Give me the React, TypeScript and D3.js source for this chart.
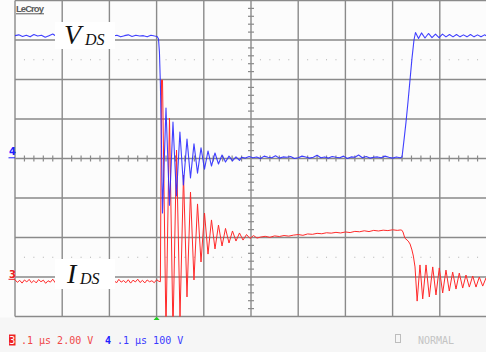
import React from 'react';
import * as d3 from 'd3';

const W = 486;
const H = 352;

// Time base: 0.1 µs/div, 10 divisions -> ns
const TIME_DOMAIN: [number, number] = [0, 1000];
// Channel 4 (VDS): 100 V/div, ground at centre line
const VDS_DOMAIN: [number, number] = [-400, 400];
// Channel 3 (IDS probe): 2.00 V/div, ground at 7th division from top
const IDS_DOMAIN: [number, number] = [-2, 14];

// ---- VDS (channel 4, volts) ----
const vdsOffStart = 0;
const vdsOffStep = 8;
const vdsOffLevel = [311, 313, 309, 312, 308, 314, 310, 312, 307, 311, 315, 309, 312, 310, 313, 308, 311, 314, 310, 309, 312, 308, 313, 311, 309, 314, 310, 312, 308, 311, 313, 309, 312, 310, 311, 308, 312, 310];
const vdsTurnOn: [number, number][] = [
  [301, 309], [304, 303], [306, 270], [308, 190], [310, 60], [312.5, -138],
  [319.9, 128], [327.3, -118], [334.7, 92], [342.0, -95], [349.4, 67], [356.8, -67],
  [364.4, 49], [371.8, -49], [379.2, 37], [386.7, -37], [394.1, 27], [401.5, -27],
  [408.9, 19], [416.3, -19], [423.7, 14], [431.1, -14], [438.6, 9], [446.0, -9],
  [453.4, 6], [460.8, -6], [468.2, 4], [475.6, -5],
];
const vdsOnStart = 480;
const vdsOnStep = 8;
const vdsOnLevel = [3, 1, 5, 2, 4, 0, 6, 3, 2, 7, 1, 4, 3, 5, 0, 2, 6, 4, 1, 3, 8, 2, 4, 1, 5, 3, 2, 6, 0, 4, 3, 9, 2, 5, 1, 3, 4, 2, 6, 3, 1, 4, 2];
const vdsTurnOff: [number, number][] = [
  [820, 4], [824.2, 47], [828.4, 92], [832.6, 143], [836.9, 199], [841.1, 254], [845.3, 300], [848.5, 319],
  [855, 304], [861.2, 318], [868.6, 305], [876, 316.5], [883.5, 306], [890.9, 315], [898.3, 306], [905.7, 315],
  [913.1, 308], [920.6, 314], [928, 308], [935.4, 314], [942.8, 308], [950.2, 313], [957.6, 308], [965, 314],
  [972.5, 308], [979.9, 313], [987.3, 308], [994.7, 313], [1000, 310],
];

// ---- IDS (channel 3, volts) ----
const idsOffStart = 0;
const idsOffStep = 5;
const idsOffLevel = [-0.14, -0.27, -0.17, -0.31, -0.15, -0.25, -0.12, -0.29, -0.18, -0.30, -0.13, -0.24, -0.16, -0.32, -0.19, -0.26, -0.11, -0.28, -0.15, -0.30, -0.17, -0.23, -0.13, -0.29, -0.20, -0.31, -0.14, -0.26, -0.18, -0.27, -0.12, -0.30, -0.16, -0.25, -0.14, -0.28, -0.19, -0.32, -0.15, -0.24, -0.13, -0.27, -0.17, -0.30, -0.12, -0.26, -0.18, -0.29, -0.14, -0.31, -0.16, -0.25, -0.11, -0.28, -0.17, -0.30, -0.15, -0.24, -0.19, -0.29, -0.14, -0.22];
const idsTurnOn: [number, number][] = [
  [308, -0.24], [310.4, 9.97], [312.5, 9.97], [319.9, -2.8], [327.3, 8.05], [334.7, -2.8],
  [342.2, 6.43], [349.6, -2.08], [357.0, 5.16], [364.4, -1.01], [371.8, 4.30], [379.2, -0.15],
  [386.7, 3.70], [394.1, 0.76], [401.5, 3.24], [408.9, 1.16], [416.3, 2.89], [423.7, 1.42],
  [431.1, 2.63], [438.6, 1.57], [446.0, 2.46], [453.4, 1.72], [460.8, 2.33], [468.2, 1.82],
  [475.6, 2.23], [483.1, 1.87], [490.5, 2.15], [497.9, 1.95], [505.3, 2.10], [512.7, 1.97],
];
const idsOnStart = 520;
const idsOnStep = 10;
const idsOnLevel = [2.02, 2.06, 2.01, 2.08, 2.05, 2.10, 2.07, 2.12, 2.15, 2.11, 2.18, 2.16, 2.21, 2.19, 2.24, 2.22, 2.26, 2.23, 2.28, 2.25, 2.31, 2.29, 2.34, 2.30, 2.36, 2.33, 2.37, 2.35, 2.39, 2.36];
const idsTurnOff: [number, number][] = [
  [816, 2.38], [819, 2.38], [822, 2.28], [826, 1.97], [833, 1.82], [837, 1.67], [841, 1.37], [844, 1.06],
  [847.5, 0.51], [852, -1.22], [858, 0.61], [863.8, -1.11], [870.8, 0.61], [877.8, -1.01], [885.0, 0.51],
  [891.9, -0.91], [898.9, 0.46], [906.1, -0.81], [913.1, 0.35], [920.1, -0.71], [927.3, 0.25], [934.3, -0.61],
  [941.3, 0.20], [948.5, -0.56], [955.5, 0.10], [962.5, -0.51], [969.7, 0.05], [976.7, -0.51], [983.7, 0.0],
  [990.9, -0.46], [997.9, -0.05], [1000, -0.25],
];

const GRID_T = d3.range(0, 1001, 100);
const GRID_V = d3.range(-400, 401, 100);
const MINOR_T = d3.range(0, 1001, 20).filter((t) => t % 100 !== 0);
const MINOR_V = d3.range(-400, 401, 20).filter((v) => v % 100 !== 0);
const DOTTED_V = [250, -250];

function sampled(start: number, step: number, vals: number[]): [number, number][] {
  return vals.map((v, i) => [start + i * step, v] as [number, number]);
}

export default function App() {
  const x = d3.scaleLinear().domain(TIME_DOMAIN).range([15, 487]);
  const yV = d3.scaleLinear().domain(VDS_DOMAIN).range([316.5, 0.5]);
  const yI = d3.scaleLinear().domain(IDS_DOMAIN).range([316.5, 0.5]);

  const vds: [number, number][] = [
    ...sampled(vdsOffStart, vdsOffStep, vdsOffLevel),
    ...vdsTurnOn,
    ...sampled(vdsOnStart, vdsOnStep, vdsOnLevel),
    ...vdsTurnOff,
  ];
  const ids: [number, number][] = [
    ...sampled(idsOffStart, idsOffStep, idsOffLevel),
    ...idsTurnOn,
    ...sampled(idsOnStart, idsOnStep, idsOnLevel),
    ...idsTurnOff,
  ];

  const lineV = d3.line<[number, number]>().x((d) => x(d[0])).y((d) => yV(d[1]));
  const lineI = d3.line<[number, number]>().x((d) => x(d[0])).y((d) => yI(d[1]));

  const gridColor = '#8a8a8a';
  const cx = x(500);
  const cy = yV(0);

  return (
    <svg width={W} height={H} style={{ position: 'absolute', left: 0, top: 0, display: 'block' }}>
      <defs>
        <clipPath id="screen">
          <rect x={x(0)} y={yV(400)} width={x(1000) - x(0)} height={yV(-400) - yV(400)} />
        </clipPath>
      </defs>
      <rect x={0} y={0} width={W} height={H} fill="#fcfcfc" />
      <rect x={0} y={yV(-400) + 1} width={W} height={H - yV(-400)} fill="#f6f6f6" />

      {/* dotted half-division lines */}
      {DOTTED_V.map((v) =>
        MINOR_T.map((t) => (
          <rect key={`d${v}-${t}`} x={x(t) - 0.5} y={yV(v) - 0.5} width={1} height={1} fill="#b0b0b0" />
        ))
      )}

      {/* major grid */}
      {GRID_T.map((t) => (
        <line key={`gt${t}`} x1={x(t)} x2={x(t)} y1={yV(400)} y2={yV(-400)} stroke={gridColor} strokeWidth={1.4} />
      ))}
      {GRID_V.map((v) => (
        <line key={`gv${v}`} x1={x(0)} x2={x(1000)} y1={yV(v)} y2={yV(v)} stroke={gridColor} strokeWidth={1.4} />
      ))}

      {/* centre axis ticks */}
      {MINOR_T.map((t) => (
        <line key={`mt${t}`} x1={x(t)} x2={x(t)} y1={cy - 3} y2={cy + 3} stroke={gridColor} strokeWidth={1.2} />
      ))}
      {MINOR_V.map((v) => (
        <line key={`mv${v}`} x1={cx - 3} x2={cx + 3} y1={yV(v)} y2={yV(v)} stroke={gridColor} strokeWidth={1.2} />
      ))}

      {/* traces */}
      <g clipPath="url(#screen)">
        <path d={lineI(ids) || ''} fill="none" stroke="#ff2a2a" strokeWidth={1} strokeLinejoin="round" />
        <path d={lineV(vds) || ''} fill="none" stroke="#2b2bff" strokeWidth={1.1} strokeLinejoin="round" opacity={0.9} />
      </g>

      {/* trigger marker */}
      <path d={`M${x(300) - 3},${yV(-400) + 3.5} L${x(300)},${yV(-400)} L${x(300) + 3},${yV(-400) + 3.5} Z`} fill="#22cc22" />

      {/* labels */}
      <rect x={55} y={22} width={60} height={27} fill="#ffffff" />
      <text x={64} y={43.5} fontFamily="'Liberation Serif', serif" fontStyle="italic" fontSize={28} fill="#111">V</text>
      <text x={85} y={44.5} fontFamily="'Liberation Serif', serif" fontStyle="italic" fontSize={16} fill="#111">DS</text>

      <rect x={55} y={259} width={60} height={30} fill="#ffffff" />
      <text x={67} y={283} fontFamily="'Liberation Serif', serif" fontStyle="italic" fontSize={28} fill="#111">I</text>
      <text x={80} y={283.5} fontFamily="'Liberation Serif', serif" fontStyle="italic" fontSize={16} fill="#111">DS</text>

      {/* LeCroy logo */}
      <text x={16} y={12} fontFamily="'Liberation Sans', sans-serif" fontSize={9.5} fontWeight="bold" fill="#5a5a5a" textLength={28}>LeCroy</text>
      <line x1={16} x2={44} y1={13.8} y2={13.8} stroke="#5a5a5a" strokeWidth={1} />

      {/* channel ground markers */}
      <text x={9} y={155} fontFamily="'DejaVu Sans', sans-serif" fontSize={10} fontWeight="bold" fill="#2020ff">4</text>
      <line x1={8.5} x2={15} y1={157.8} y2={157.8} stroke="#2020ff" strokeWidth={1} />
      <text x={9} y={278} fontFamily="'DejaVu Sans', sans-serif" fontSize={10} fontWeight="bold" fill="#e82020">3</text>
      <line x1={8.5} x2={15} y1={279.3} y2={279.3} stroke="#e82020" strokeWidth={1} />

      {/* status line */}
      <rect x={9} y={334.5} width={6.5} height={11} fill="#ee2222" />
      <text x={9.3} y={344} fontFamily="'DejaVu Sans Mono', monospace" fontSize={10} fill="#ffffff">3</text>
      <text x={21} y={344} fontFamily="'DejaVu Sans Mono', monospace" fontSize={10} fill="#f04848">.1 µs 2.00 V</text>
      <text x={105} y={344} fontFamily="'DejaVu Sans Mono', monospace" fontSize={10} fontWeight="bold" fill="#2020ff">4</text>
      <text x={117} y={344} fontFamily="'DejaVu Sans Mono', monospace" fontSize={10} fill="#3a3aff">.1 µs 100 V</text>
      <rect x={395.5} y={334.5} width={5} height={8} fill="none" stroke="#bdbdbd" strokeWidth={1} />
      <text x={418} y={344} fontFamily="'DejaVu Sans Mono', monospace" fontSize={10} fill="#c4c4c4">NORMAL</text>
    </svg>
  );
}
